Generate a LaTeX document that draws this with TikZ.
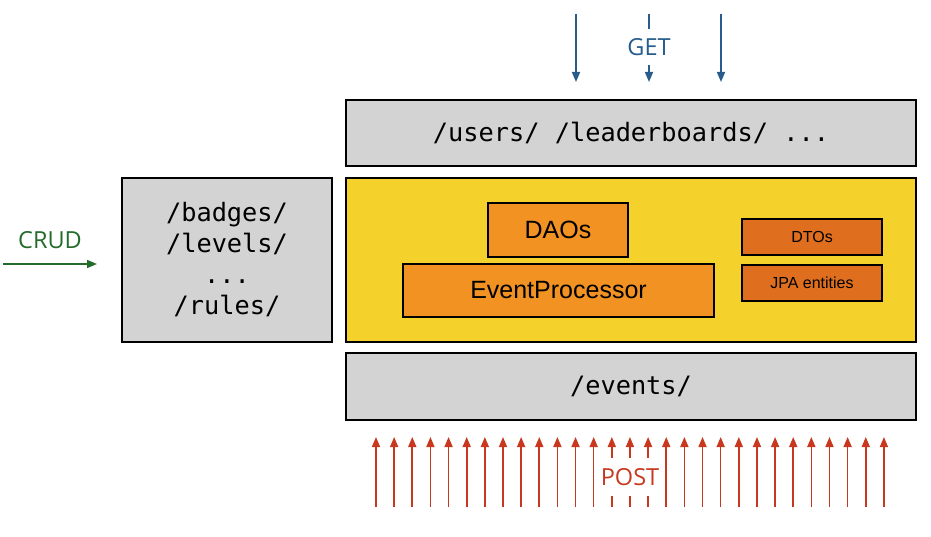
\documentclass[tikz,border=0pt]{standalone}
\usepackage{fontspec}
\setmainfont{Liberation Sans}
\setmonofont{DejaVu Sans Mono}
\newfontfamily\verbfont{Open Sans}
\usetikzlibrary{arrows.meta}
\definecolor{boxgray}{HTML}{D3D3D3}
\definecolor{coreyellow}{HTML}{F4D22B}
\definecolor{partorange}{HTML}{F29222}
\definecolor{modelorange}{HTML}{DF6E1E}
\definecolor{getblue}{HTML}{275C8C}
\definecolor{postred}{HTML}{C8381E}
\definecolor{crudgreen}{HTML}{236B2A}

\begin{document}
\begin{tikzpicture}[x=1pt, y=-1pt, >={Triangle[length=10pt,width=8pt]},
  endpoint/.style={draw, line width=1.6pt, fill=boxgray, inner sep=0pt,
    font=\ttfamily\fontsize{25.3}{31}\selectfont, align=center},
  part/.style={draw, line width=1.4pt, fill=partorange, inner sep=0pt,
    font=\fontsize{25}{30}\selectfont},
  model/.style={draw, line width=1.4pt, fill=modelorange, inner sep=0pt,
    font=\fontsize{16}{19}\selectfont},
  verb/.style={inner sep=0pt, font=\verbfont\fontsize{23.5}{28}\selectfont}]
  \useasboundingbox (0,0) rectangle (931,537);

  % endpoints and core
  \node[endpoint, minimum width=570, minimum height=66] (api) at (631,133) {/users/ /leaderboards/ ...};
  \node[endpoint, minimum width=210, minimum height=164] (admin) at (227,260) {/badges/\\/levels/\\...\\/rules/};
  \node[draw, line width=1.6pt, fill=coreyellow, minimum width=570, minimum height=164] (core) at (631,260) {};
  \node[endpoint, minimum width=570, minimum height=67] (events) at (631,386.5) {/events/};

  % inside the core
  \node[part, minimum width=140, minimum height=54] (dao) at (558,230) {DAOs};
  \node[part, minimum width=311, minimum height=53] (proc) at (558.5,290.5) {EventProcessor};
  \node[model, minimum width=140, minimum height=36] (dto) at (812,237) {DTOs};
  \node[model, minimum width=140, minimum height=36] (jpa) at (812,283) {JPA entities};

  % CRUD
  \node[verb, text=crudgreen] (crud) at (50,240) {CRUD};
  \coordinate (crudS) at (3,264);
  \coordinate (crudE) at (97,264);
  \draw[->, line width=1.6pt, crudgreen] (crudS) -- (crudE);

  % GET
  \coordinate (getS1) at (576,14);  \coordinate (getE1) at (576,82);
  \coordinate (getS2) at (649,14);  \coordinate (getE2) at (649,82);
  \coordinate (getS3) at (721,14);  \coordinate (getE3) at (721,82);
  \draw[->, line width=1.6pt, getblue] (getS1) -- (getE1);
  \draw[->, line width=1.6pt, getblue] (getS2) -- (getE2);
  \draw[->, line width=1.6pt, getblue] (getS3) -- (getE3);
  \node[verb, text=getblue, fill=white, inner ysep=9pt] (get) at (649,47) {GET};

  % POST
  \foreach \i in {0,...,28} {
    \coordinate (postS\i) at (376+18.14*\i,507);
    \coordinate (postE\i) at (376+18.14*\i,437);
    \draw[->, line width=1.6pt, postred] (postS\i) -- (postE\i);
  }
  \node[verb, text=postred, fill=white, inner ysep=10pt] (post) at (630,477) {POST};
\end{tikzpicture}
\end{document}
